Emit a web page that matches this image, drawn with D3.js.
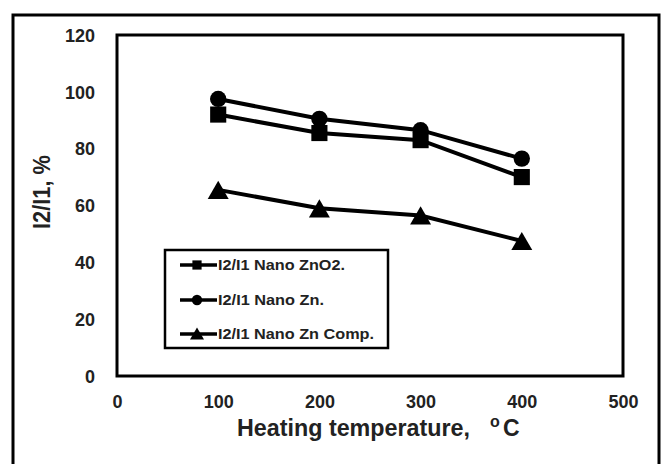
<!DOCTYPE html>
<html>
<head>
<meta charset="utf-8">
<script src="https://cdn.jsdelivr.net/npm/d3@7"></script>
<style>
  body { margin: 0; background: #fff; }
  svg { display: block; font-family: "Liberation Sans", Arial, sans-serif; }
</style>
</head>
<body>
<script>
// chart data
var temps = [100, 200, 300, 400];
var nanoZnO2 = [92, 85.5, 83, 70];
var nanoZn = [97.5, 90.5, 86.5, 76.5];
var nanoZnComp = [65.5, 59, 56.5, 47.5];
var seriesNames = ['I2/I1 Nano ZnO2.', 'I2/I1 Nano Zn.', 'I2/I1 Nano Zn Comp.'];
var legendWidths = [127, 106, 156];
var legendRows = [265, 300, 334];
var xTicks = [0, 100, 200, 300, 400, 500];
var yTicks = [0, 20, 40, 60, 80, 100, 120];

var width = 662, height = 464;
var plot = { left: 117, right: 623, top: 35, bottom: 376 };

var svg = d3.select('body').append('svg').attr('width', width).attr('height', height);

// outer frame
svg.append('rect').attr('x', 13).attr('y', 15).attr('width', 646).attr('height', 470)
  .attr('fill', 'none').attr('stroke', '#000').attr('stroke-width', 3);

var x = d3.scaleLinear().domain([0, 500]).range([plot.left, plot.right]);
var y = d3.scaleLinear().domain([0, 120]).range([plot.bottom, plot.top]);

// plot frame
svg.append('rect').attr('x', plot.left).attr('y', plot.top)
  .attr('width', plot.right - plot.left).attr('height', plot.bottom - plot.top)
  .attr('fill', 'none').attr('stroke', '#000').attr('stroke-width', 3);

// axes (labels only)
var xAxis = svg.append('g').attr('transform', 'translate(0,' + (plot.bottom + 26) + ')')
  .call(d3.axisBottom(x).tickValues(xTicks).tickSize(0).tickPadding(0));
var yAxis = svg.append('g').attr('transform', 'translate(' + (plot.left - 22) + ',0)')
  .call(d3.axisLeft(y).tickValues(yTicks).tickSize(0).tickPadding(0));
[xAxis, yAxis].forEach(function (a) {
  a.select('.domain').remove();
  a.selectAll('text').attr('font-size', 18).attr('font-weight', 'bold')
    .attr('fill', '#222').attr('font-family', '"Liberation Sans", Arial, sans-serif');
});
xAxis.selectAll('text').attr('dy', '0.35em');
yAxis.selectAll('text').attr('dy', '0.35em');

// axis titles
svg.append('text').attr('x', 237).attr('y', 436)
  .attr('font-size', 23).attr('font-weight', 'bold').attr('fill', '#222')
  .attr('textLength', 233).attr('lengthAdjust', 'spacingAndGlyphs')
  .text('Heating temperature,');
svg.append('text').attr('x', 490).attr('y', 427)
  .attr('font-size', 16).attr('font-weight', 'bold').attr('fill', '#222').text('o');
svg.append('text').attr('x', 503).attr('y', 436)
  .attr('font-size', 23).attr('font-weight', 'bold').attr('fill', '#222').text('C');

svg.append('text').attr('transform', 'translate(50,192) rotate(-90)')
  .attr('text-anchor', 'middle').attr('font-size', 23).attr('font-weight', 'bold')
  .attr('fill', '#222').attr('textLength', 74).attr('lengthAdjust', 'spacingAndGlyphs')
  .text('I2/I1, %');

var series = [
  { name: seriesNames[0], values: nanoZnO2, shape: d3.symbolSquare, size: 260, dy: 0 },
  { name: seriesNames[1], values: nanoZn, shape: d3.symbolCircle, size: 210, dy: 0 },
  { name: seriesNames[2], values: nanoZnComp, shape: d3.symbolTriangle, size: 190, dy: 3 }
];

var line = d3.line().x(function (d) { return x(d[0]); }).y(function (d) { return y(d[1]); });

series.forEach(function (s) {
  var pts = temps.map(function (t, i) { return [t, s.values[i]]; });
  svg.append('path').datum(pts).attr('d', line)
    .attr('fill', 'none').attr('stroke', '#000').attr('stroke-width', 4);
  svg.selectAll(null).data(pts).enter().append('path')
    .attr('d', d3.symbol().type(s.shape).size(s.size))
    .attr('transform', function (d) { return 'translate(' + x(d[0]) + ',' + (y(d[1]) + s.dy) + ')'; })
    .attr('fill', '#000');
});

// legend
var lg = svg.append('g');
lg.append('rect').attr('x', 165).attr('y', 250).attr('width', 223).attr('height', 98)
  .attr('fill', '#fff').attr('stroke', '#000').attr('stroke-width', 2.5);
series.forEach(function (s, i) {
  var ly = legendRows[i];
  lg.append('line').attr('x1', 180).attr('x2', 217).attr('y1', ly).attr('y2', ly)
    .attr('stroke', '#000').attr('stroke-width', 3.5);
  lg.append('path').attr('d', d3.symbol().type(s.shape).size(85))
    .attr('transform', 'translate(197,' + (ly + s.dy / 2) + ')').attr('fill', '#000');
  lg.append('text').attr('x', 218).attr('y', ly).attr('dy', '0.35em')
    .attr('font-size', 14).attr('font-weight', 'bold').attr('fill', '#222')
    .attr('textLength', legendWidths[i]).attr('lengthAdjust', 'spacingAndGlyphs')
    .text(s.name);
});
</script>
</body>
</html>
